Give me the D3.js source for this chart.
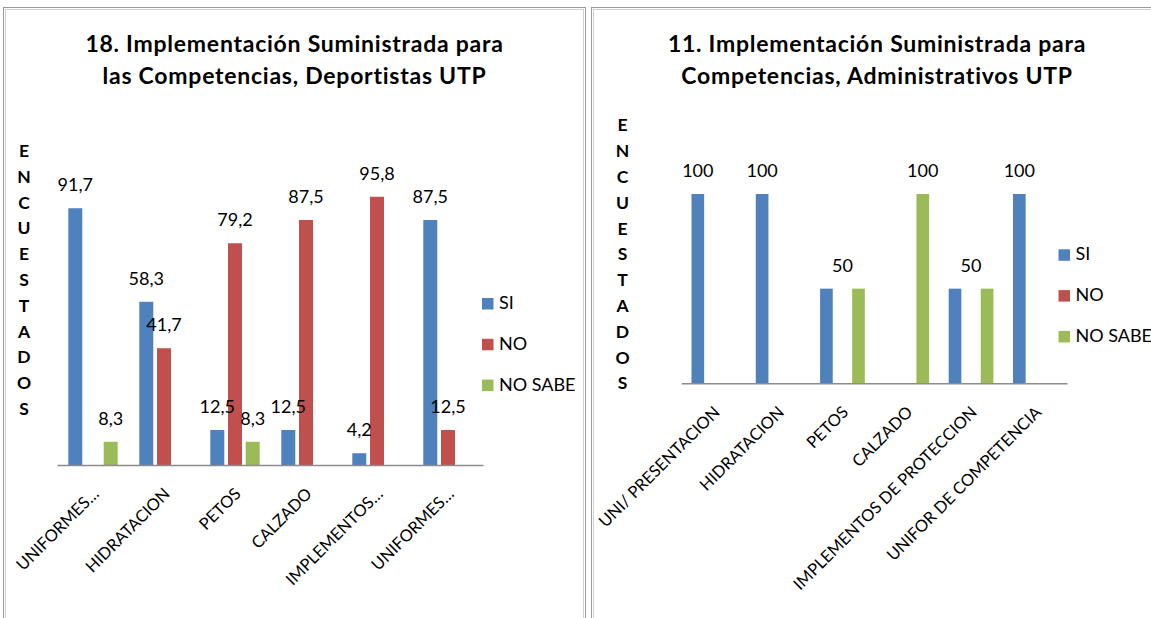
<!DOCTYPE html>
<html>
<head>
<meta charset="utf-8">
<script src="https://cdn.jsdelivr.net/npm/d3@7"></script>
<style>
  html, body { margin: 0; padding: 0; background: #fff; }
  svg { display: block; }
  text { font-family: Lato, "Open Sans", sans-serif; fill: #000; }
</style>
</head>
<body>
<svg id="chart" width="1151" height="618"></svg>
<script>
// ---------- DATA ----------
const seriesNames = ["SI", "NO", "NO SABE"];
const seriesColors = ["#4f81bd", "#c0504d", "#9bbb59"];
const yAxisTitle = "ENCUESTADOS";

const titleLeft = ["18. Implementación Suministrada para", "las Competencias, Deportistas UTP"];
const catsLeft = ["UNIFORMES…", "HIDRATACION", "PETOS", "CALZADO", "IMPLEMENTOS…", "UNIFORMES…"];
const siLeft = [91.7, 58.3, 12.5, 12.5, 4.2, 87.5];
const noLeft = [0, 41.7, 79.2, 87.5, 95.8, 12.5];
const nsLeft = [8.3, 0, 8.3, 0, 0, 0];

const titleRight = ["11. Implementación Suministrada para", "Competencias, Administrativos UTP"];
const catsRight = ["UNI/ PRESENTACION", "HIDRATACION", "PETOS", "CALZADO", "IMPLEMENTOS DE PROTECCION", "UNIFOR DE COMPETENCIA"];
const siRight = [100, 100, 50, 0, 50, 100];
const noRight = [0, 0, 0, 0, 0, 0];
const nsRight = [0, 0, 50, 100, 50, 0];

// ---------- DRAW ----------
const svg = d3.select("#chart");
const fmt = v => String(v).replace(".", ",");

function frame(x, w) {
  svg.append("rect").attr("x", x + 0.5).attr("y", 7.5).attr("width", w).attr("height", 700)
    .attr("fill", "none").attr("stroke", "#9a9a9a").attr("stroke-width", 1);
  svg.append("rect").attr("x", x + 2.5).attr("y", 9.5).attr("width", w - 4).attr("height", 700)
    .attr("fill", "none").attr("stroke", "#cfcfcf").attr("stroke-width", 1);
}
frame(3, 582);
frame(591, 600);

function drawChart(cfg) {
  const g = svg.append("g");
  const data = cfg.cats.map((c, i) => ({
    cat: c, i,
    vals: seriesNames.map((s, k) => ({ s, k, v: cfg.series[k][i] }))
  }));

  const x0 = d3.scaleBand().domain(d3.range(cfg.cats.length))
    .range([cfg.x0, cfg.x1]).paddingInner(0).paddingOuter(0);
  const x1 = d3.scaleBand().domain(seriesNames)
    .range([0, x0.bandwidth()]).paddingInner(0.21).paddingOuter(0.61);
  const y = d3.scaleLinear().domain([0, 100]).range([cfg.yBase, cfg.yTop]);

  // title
  g.append("text").attr("x", cfg.titleX).attr("y", 52)
    .attr("text-anchor", "middle").attr("font-weight", "bold").attr("font-size", 23)
    .attr("letter-spacing", 0.75)
    .selectAll("tspan").data(cfg.title).join("tspan")
    .attr("x", cfg.titleX).attr("dy", (d, i) => i === 0 ? 0 : 32).text(d => d);

  // vertical axis title (stacked letters)
  g.append("g").selectAll("text").data(yAxisTitle.split("")).join("text")
    .attr("x", cfg.yTitleX).attr("y", (d, i) => cfg.yTitleY + i * 25.8)
    .attr("text-anchor", "middle").attr("font-weight", "bold").attr("font-size", 17.5)
    .text(d => d);

  // bars
  const grp = g.append("g").selectAll("g").data(data).join("g")
    .attr("transform", d => `translate(${x0(d.i)},0)`);
  grp.selectAll("rect").data(d => d.vals.filter(v => v.v > 0)).join("rect")
    .attr("x", d => x1(d.s)).attr("width", x1.bandwidth())
    .attr("y", d => y(d.v)).attr("height", d => y(0) - y(d.v))
    .attr("fill", d => seriesColors[d.k]);

  // data labels: one label per distinct non-zero value in a category
  const labels = [];
  data.forEach(d => {
    const byVal = d3.group(d.vals.filter(v => v.v > 0), v => v.v);
    byVal.forEach((arr, v) => {
      const cx = x0(d.i) + d3.mean(arr, a => x1(a.s) + x1.bandwidth() / 2);
      labels.push({ v, cx });
    });
  });
  g.append("g").selectAll("text").data(labels).join("text")
    .attr("x", d => d.cx).attr("y", d => y(d.v) - 17)
    .attr("text-anchor", "middle").attr("font-size", 18)
    .text(d => fmt(d.v));

  // baseline axis
  g.append("line").attr("x1", cfg.x0).attr("x2", cfg.x1)
    .attr("y1", y(0) + 0.5).attr("y2", y(0) + 0.5)
    .attr("stroke", "#8c8c8c").attr("stroke-width", 1.6);

  // category labels
  g.append("g").selectAll("text").data(data).join("text")
    .attr("transform", d => `translate(${x0(d.i) + x0.bandwidth() / 2 + 4},${y(0) + 27}) rotate(-45)`)
    .attr("text-anchor", "end").attr("dominant-baseline", "middle").attr("font-size", 16.5)
    .text(d => d.cat);

  // legend
  const lg = g.append("g").selectAll("g").data(seriesNames).join("g")
    .attr("transform", (d, i) => `translate(${cfg.legX},${cfg.legY + i * 40.8})`);
  lg.append("rect").attr("width", 11.5).attr("height", 11.5)
    .attr("fill", (d, i) => seriesColors[i]);
  lg.append("text").attr("x", 17).attr("y", 11).attr("font-size", 18).text(d => d);
}

drawChart({
  title: titleLeft, titleX: 294.5, cats: catsLeft, series: [siLeft, noLeft, nsLeft],
  x0: 57.5, x1: 483.5, yBase: 465, yTop: 185,
  yTitleX: 24, yTitleY: 157, legX: 482, legY: 298
});
drawChart({
  title: titleRight, titleX: 877, cats: catsRight, series: [siRight, noRight, nsRight],
  x0: 681.7, x1: 1067.5, yBase: 383.3, yTop: 194,
  yTitleX: 622.5, yTitleY: 131.3, legX: 1058.5, legY: 249.3
});
</script>
</body>
</html>
